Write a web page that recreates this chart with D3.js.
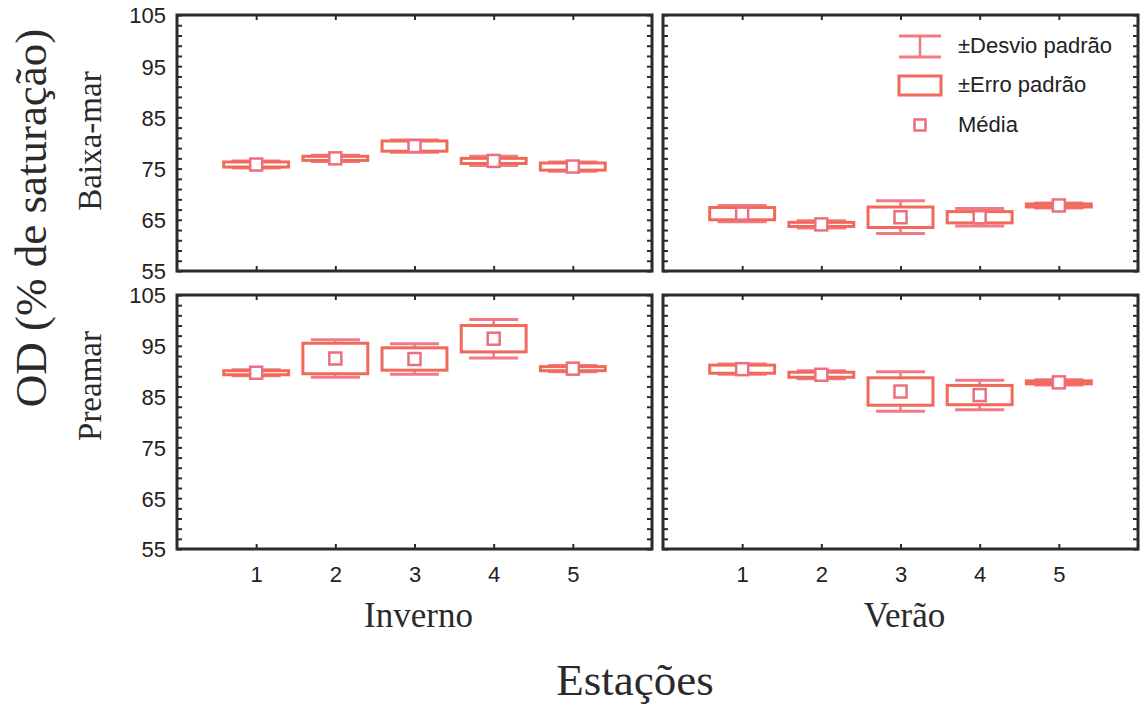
<!DOCTYPE html>
<meta charset="utf-8">
<style>
body { margin: 0; background: #fff; }
.frame { fill: none; stroke: #2b2b2b; stroke-width: 3px; }
.tick text { font-family: "Liberation Sans", Arial, sans-serif; font-size: 22px; fill: #222; }
.tick line { stroke: #2b2b2b; stroke-width: 2px; }
.domain { display: none; }
.serif { font-family: "Liberation Serif", "Times New Roman", serif; fill: #2a2a2a; }
.legend text { font-family: "Liberation Sans", Arial, sans-serif; font-size: 22px; fill: #222; }
</style>
<body>
<script src="https://d3js.org/d3.v7.min.js"></script>
<script>

// categories / labels
let stations = ["1", "2", "3", "4", "5"];
let seasons = ["Inverno", "Verão"];
let tides = ["Baixa-mar", "Preamar"];
let yTicks = [55, 65, 75, 85, 95, 105];

// Baixa-mar, Inverno
let baixaInvernoMean = [75.8, 77.0, 79.4, 76.5, 75.4];
let baixaInvernoSE   = [0.5, 0.4, 1.0, 0.5, 0.7];
let baixaInvernoSD   = [0.7, 0.6, 1.2, 0.9, 0.9];
// Baixa-mar, Verão
let baixaVeraoMean = [66.2, 64.1, 65.5, 65.5, 67.8];
let baixaVeraoSE   = [1.2, 0.4, 2.0, 1.1, 0.3];
let baixaVeraoSD   = [1.6, 0.7, 3.2, 1.7, 0.5];
// Preamar, Inverno
let preamarInvernoMean = [89.7, 92.5, 92.4, 96.4, 90.5];
let preamarInvernoSE   = [0.4, 3.0, 2.2, 2.6, 0.4];
let preamarInvernoSD   = [0.6, 3.7, 3.0, 3.8, 0.6];
// Preamar, Verão
let preamarVeraoMean = [90.4, 89.3, 86.0, 85.3, 87.8];
let preamarVeraoSE   = [0.8, 0.5, 2.7, 1.9, 0.3];
let preamarVeraoSD   = [1.0, 0.8, 3.9, 2.9, 0.5];

let legendLabels = ["±Desvio padrão", "±Erro padrão", "Média"];

let boxColor = "#f0695a", sdColor = "#f27a84", meanColor = "#ec6f7f";

let W = 1144, H = 706;
let colX = [177, 663], colW = 475;
let rowY = [15, 295], rowH = [256, 254];

let svg = d3.select("body").append("svg")
    .attr("width", W)
    .attr("height", H);

let panels = [
    {row: 0, col: 0, mean: baixaInvernoMean, se: baixaInvernoSE, sd: baixaInvernoSD},
    {row: 0, col: 1, mean: baixaVeraoMean, se: baixaVeraoSE, sd: baixaVeraoSD},
    {row: 1, col: 0, mean: preamarInvernoMean, se: preamarInvernoSE, sd: preamarInvernoSD},
    {row: 1, col: 1, mean: preamarVeraoMean, se: preamarVeraoSE, sd: preamarVeraoSD}
];

let minorTicks = d3.range(55, 105.1, 2);

panels.forEach(function (p) {
    let w = colW, h = rowH[p.row];
    let g = svg.append("g")
        .attr("transform", "translate(" + colX[p.col] + "," + rowY[p.row] + ")");

    let x = d3.scaleLinear().domain([0, 6]).range([0, w]);
    let y = d3.scaleLinear().domain([55, 105]).range([h, 0]);
    let unit = x(1) - x(0);
    let boxHalf = unit * 0.41, capHalf = unit * 0.31, meanHalf = 6;

    // inner ticks
    g.append("g").call(d3.axisLeft(y).tickValues(minorTicks).tickSize(-5).tickFormat(""));
    g.append("g").attr("transform", "translate(" + w + ",0)")
        .call(d3.axisRight(y).tickValues(minorTicks).tickSize(-5).tickFormat(""));
    g.append("g").call(d3.axisTop(x).tickValues([1, 2, 3, 4, 5]).tickSize(-5).tickFormat(""));
    g.append("g").attr("transform", "translate(0," + h + ")")
        .call(d3.axisBottom(x).tickValues([1, 2, 3, 4, 5]).tickSize(-5)
            .tickPadding(17)
            .tickFormat(function (d) { return p.row === 1 ? stations[d - 1] : ""; }));

    if (p.col === 0) {
        g.append("g").call(d3.axisLeft(y).tickValues(yTicks).tickSize(0).tickPadding(11))
            .selectAll(".tick text").attr("dy", "0.36em");
    }

    g.append("rect").attr("class", "frame").attr("width", w).attr("height", h);

    let data = stations.map(function (s, i) {
        return {i: i + 1, mean: p.mean[i], se: p.se[i], sd: p.sd[i]};
    });

    let item = g.selectAll(".item").data(data).enter().append("g").attr("class", "item");

    // whisker stem
    item.append("line")
        .attr("x1", function (d) { return x(d.i); })
        .attr("x2", function (d) { return x(d.i); })
        .attr("y1", function (d) { return y(d.mean - d.sd); })
        .attr("y2", function (d) { return y(d.mean + d.sd); })
        .attr("stroke", sdColor).attr("stroke-width", 2.5);
    // caps
    [-1, 1].forEach(function (s) {
        item.append("line")
            .attr("x1", function (d) { return x(d.i) - capHalf; })
            .attr("x2", function (d) { return x(d.i) + capHalf; })
            .attr("y1", function (d) { return y(d.mean + s * d.sd); })
            .attr("y2", function (d) { return y(d.mean + s * d.sd); })
            .attr("stroke", sdColor).attr("stroke-width", 3);
    });
    // standard error box
    item.append("rect")
        .attr("x", function (d) { return x(d.i) - boxHalf; })
        .attr("width", boxHalf * 2)
        .attr("y", function (d) { return y(d.mean + d.se); })
        .attr("height", function (d) { return y(d.mean - d.se) - y(d.mean + d.se); })
        .attr("fill", "#fff")
        .attr("stroke", boxColor).attr("stroke-width", 3);
    // mean
    item.append("rect")
        .attr("x", function (d) { return x(d.i) - meanHalf; })
        .attr("y", function (d) { return y(d.mean) - meanHalf; })
        .attr("width", meanHalf * 2).attr("height", meanHalf * 2)
        .attr("fill", "#fff")
        .attr("stroke", meanColor).attr("stroke-width", 2.5);
});

// row labels
tides.forEach(function (t, i) {
    let cy = rowY[i] + rowH[i] / 2 + (i === 0 ? -2 : -36);
    svg.append("text").attr("class", "serif")
        .attr("transform", "translate(101," + cy + ") rotate(-90)")
        .attr("text-anchor", "middle")
        .style("font-size", "33px")
        .text(t);
});

// y title
svg.append("text")
    .attr("transform", "translate(46,218) rotate(-90)")
    .attr("text-anchor", "middle")
    .style("font-family", "'Liberation Serif', 'DejaVu Serif', serif")
    .style("font-size", "45px")
    .style("fill", "#2a2a2a")
    .text("OD (% de saturação)");

// season labels
seasons.forEach(function (s, i) {
    svg.append("text").attr("class", "serif")
        .attr("x", colX[i] + colW / 2 + 4)
        .attr("y", 627)
        .attr("text-anchor", "middle")
        .style("font-size", "35px")
        .text(s);
});

svg.append("text").attr("class", "serif")
    .attr("x", 635).attr("y", 695)
    .attr("text-anchor", "middle")
    .style("font-size", "45px")
    .text("Estações");

// legend
let lg = svg.append("g").attr("class", "legend").attr("transform", "translate(899,0)");
lg.append("line").attr("x1", 21).attr("x2", 21).attr("y1", 36).attr("y2", 57)
    .attr("stroke", sdColor).attr("stroke-width", 2.5);
[36, 57].forEach(function (yy) {
    lg.append("line").attr("x1", 0).attr("x2", 42).attr("y1", yy).attr("y2", yy)
        .attr("stroke", sdColor).attr("stroke-width", 3);
});
lg.append("rect").attr("x", 0).attr("y", 76).attr("width", 42).attr("height", 19)
    .attr("fill", "#fff").attr("stroke", boxColor).attr("stroke-width", 3);
lg.append("rect").attr("x", 21 - 5.5).attr("y", 125 - 5.5).attr("width", 11).attr("height", 11)
    .attr("fill", "#fff").attr("stroke", meanColor).attr("stroke-width", 2.5);
lg.selectAll("text.lab").data(legendLabels).enter().append("text")
    .attr("class", "lab")
    .attr("x", 59)
    .attr("y", function (d, i) { return [53, 92, 132][i]; })
    .text(function (d) { return d; });

</script>
</body>
